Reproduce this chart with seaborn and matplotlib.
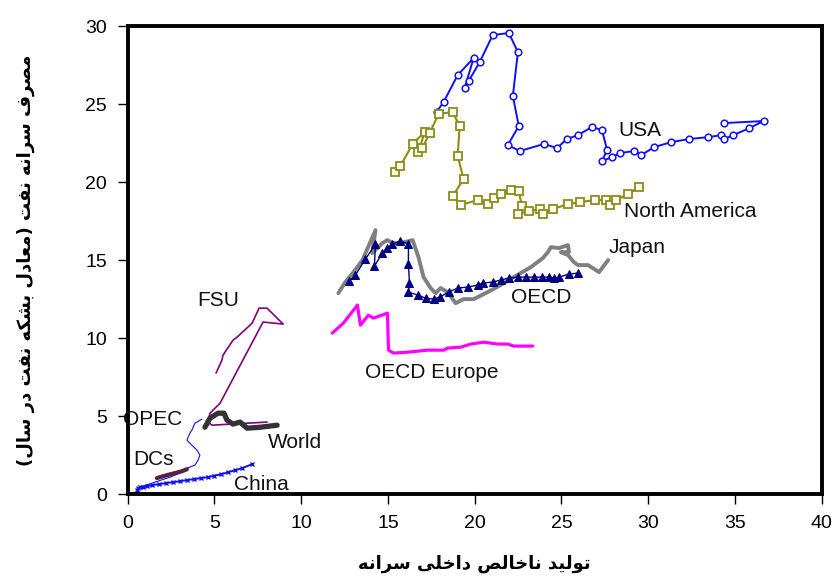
import matplotlib
matplotlib.use("Agg")
import matplotlib.pyplot as plt
import seaborn as sns
import pandas as pd

# ---- per-capita GDP (x) vs per-capita oil consumption (y) ----
usa_x = [17.80, 18.21, 19.02, 19.94, 19.42, 19.65, 20.29, 21.04, 21.97, 22.49, 22.20, 22.54,
         21.91, 22.60, 23.99, 24.74, 25.32, 25.95, 26.76, 27.34, 27.63, 27.34, 27.92, 28.38,
         29.19, 29.60, 30.35, 31.33, 32.37, 33.47, 34.22, 34.39, 34.91, 35.84, 36.65, 34.39]
usa_y = [24.49, 25.13, 26.86, 27.95, 26.03, 26.47, 27.69, 29.42, 29.55, 28.33, 25.51, 23.59,
         22.37, 21.99, 22.44, 22.18, 22.76, 23.01, 23.53, 23.33, 22.05, 21.35, 21.60, 21.86,
         21.99, 21.73, 22.24, 22.56, 22.76, 22.88, 23.01, 22.76, 23.01, 23.46, 23.91, 23.78]

na_x = [15.43, 15.72, 16.42, 17.11, 16.76, 16.99, 17.40, 17.92, 18.73, 19.13, 19.02, 19.36,
        18.73, 19.19, 20.17, 20.75, 21.10, 21.50, 22.08, 22.54, 22.72, 22.49, 23.12, 23.76,
        23.93, 24.51, 25.38, 26.07, 26.94, 27.57, 27.80, 28.15, 28.84, 29.48]
na_y = [20.64, 21.03, 22.44, 23.21, 21.92, 22.18, 23.14, 24.36, 24.49, 23.59, 21.67, 20.19,
        19.10, 18.53, 18.85, 18.59, 18.97, 19.23, 19.49, 19.42, 18.46, 17.95, 18.14, 18.27,
        17.95, 18.27, 18.59, 18.72, 18.85, 18.85, 18.53, 18.85, 19.23, 19.68]

japan_x = [12.14, 12.54, 13.01, 13.53, 14.28, 14.10, 14.68, 14.97, 15.26, 15.72, 16.42, 16.76,
           17.05, 17.46, 17.75, 18.03, 18.44, 18.90, 19.36, 19.94, 20.75, 21.50, 22.25, 23.24,
           23.93, 24.22, 24.39, 24.86, 25.38, 25.43, 24.97, 25.38, 25.72, 25.95, 26.53, 27.17, 27.69]
japan_y = [12.88, 13.59, 14.23, 15.00, 16.92, 15.45, 16.09, 16.28, 16.09, 16.09, 16.28, 15.19,
           13.91, 13.21, 12.88, 13.21, 12.95, 12.24, 12.50, 12.50, 12.95, 13.40, 13.91, 14.55,
           15.13, 15.51, 15.83, 15.77, 15.96, 15.51, 15.51, 15.32, 14.87, 14.68, 14.68, 14.23, 15.00]

oecd_x = [12.77, 13.12, 13.70, 14.28, 14.22, 14.68, 14.97, 15.26, 15.72, 16.18, 16.18, 16.24,
          16.18, 16.71, 17.17, 17.63, 17.98, 18.50, 19.02, 19.60, 20.17, 20.46, 21.04, 21.50,
          21.97, 22.49, 22.95, 23.41, 23.87, 24.28, 24.57, 24.86, 25.43, 25.95]
oecd_y = [13.65, 14.04, 15.06, 16.03, 14.62, 15.45, 15.77, 16.03, 16.22, 16.03, 14.74, 13.53,
          12.95, 12.76, 12.56, 12.50, 12.63, 12.95, 13.21, 13.27, 13.40, 13.53, 13.59, 13.72,
          13.85, 13.91, 13.91, 13.91, 13.91, 13.91, 13.85, 13.91, 14.10, 14.17]

europe_x = [11.79, 12.43, 13.24, 13.41, 13.87, 14.16, 14.97, 15.03, 15.32, 16.13, 17.28, 18.21,
            18.44, 19.19, 19.77, 20.52, 21.33, 21.91, 22.25, 23.35]
europe_y = [10.32, 10.96, 12.12, 10.83, 11.47, 11.28, 11.60, 9.23, 9.04, 9.10, 9.23, 9.23,
            9.36, 9.42, 9.62, 9.74, 9.62, 9.62, 9.49, 9.49]

fsu_x = [5.09, 5.43, 5.49, 6.07, 6.30, 7.17, 7.57, 8.03, 8.61, 8.96, 7.80, 5.32, 4.74, 4.62,
         4.86, 5.90, 6.88, 8.03]
fsu_y = [7.76, 8.59, 8.91, 9.87, 10.06, 10.96, 11.92, 11.92, 11.28, 10.90, 11.03, 5.83, 5.19,
         4.62, 4.42, 4.49, 4.55, 4.62]

world_x = [4.45, 4.74, 5.20, 5.55, 5.72, 6.07, 6.47, 6.88, 7.63, 8.61]
world_y = [4.29, 4.87, 5.19, 5.19, 4.74, 4.49, 4.62, 4.23, 4.29, 4.42]

opec_x = [0.69, 1.56, 2.43, 3.01, 3.41, 3.87, 4.05, 4.16, 3.99, 3.58, 3.41, 3.58, 3.70, 3.87, 4.28]
opec_y = [0.45, 0.77, 1.09, 1.35, 1.67, 1.86, 2.18, 2.50, 2.82, 3.27, 3.46, 3.91, 4.10, 4.55, 4.81]

dcs_x = [1.68, 1.85, 2.25, 2.72, 3.12, 3.41]
dcs_y = [1.03, 1.09, 1.22, 1.35, 1.47, 1.60]

china_x = [0.55, 0.55, 0.60, 0.70, 0.90, 1.10, 1.40, 1.80, 2.20, 2.60, 3.00, 3.40, 3.80, 4.20,
           4.60, 5.00, 5.40, 5.80, 6.20, 6.60, 7.17]
china_y = [0.10, 0.30, 0.38, 0.45, 0.45, 0.51, 0.58, 0.64, 0.71, 0.77, 0.83, 0.90, 0.96, 1.03,
           1.09, 1.19, 1.28, 1.41, 1.54, 1.67, 1.92]

x_ticks = [0, 5, 10, 15, 20, 25, 30, 35, 40]
y_ticks = [0, 5, 10, 15, 20, 25, 30]

x_label = "تولید ناخالص داخلی سرانه"
y_label = "مصرف سرانه نفت (معادل بشکه نفت در سال)"

# ---- minimal Persian shaping (presentation forms, visual order) ----
FORMS = {  # isolated, final, initial, medial
    "ا": ("\uFE8D", "\uFE8E", None, None),
    "ب": ("\uFE8F", "\uFE90", "\uFE91", "\uFE92"),
    "ت": ("\uFE95", "\uFE96", "\uFE97", "\uFE98"),
    "خ": ("\uFEA5", "\uFEA6", "\uFEA7", "\uFEA8"),
    "د": ("\uFEA9", "\uFEAA", None, None),
    "ر": ("\uFEAD", "\uFEAE", None, None),
    "س": ("\uFEB1", "\uFEB2", "\uFEB3", "\uFEB4"),
    "ش": ("\uFEB5", "\uFEB6", "\uFEB7", "\uFEB8"),
    "ص": ("\uFEB9", "\uFEBA", "\uFEBB", "\uFEBC"),
    "ع": ("\uFEC9", "\uFECA", "\uFECB", "\uFECC"),
    "ف": ("\uFED1", "\uFED2", "\uFED3", "\uFED4"),
    "ل": ("\uFEDD", "\uFEDE", "\uFEDF", "\uFEE0"),
    "م": ("\uFEE1", "\uFEE2", "\uFEE3", "\uFEE4"),
    "ن": ("\uFEE5", "\uFEE6", "\uFEE7", "\uFEE8"),
    "ه": ("\uFEE9", "\uFEEA", "\uFEEB", "\uFEEC"),
    "و": ("\uFEED", "\uFEEE", None, None),
    "ک": ("\uFB8E", "\uFB8F", "\uFB90", "\uFB91"),
    "ی": ("\uFBFC", "\uFBFD", "\uFBFE", "\uFBFF"),
}


def joins_next(ch):
    return ch in FORMS and FORMS[ch][2] is not None


def shape_fa(text):
    out = []
    for i, ch in enumerate(text):
        if ch not in FORMS:
            out.append(ch)
            continue
        prev_ch = text[i - 1] if i > 0 else ""
        next_ch = text[i + 1] if i + 1 < len(text) else ""
        link_prev = joins_next(prev_ch)
        link_next = joins_next(ch) and next_ch in FORMS
        iso, fin, ini, med = FORMS[ch]
        if link_prev and link_next:
            out.append(med)
        elif link_prev:
            out.append(fin)
        elif link_next:
            out.append(ini)
        else:
            out.append(iso)
    mirror = {"(": ")", ")": "("}
    return "".join(mirror.get(c, c) for c in reversed(out))


# ---- figure ----
sns.set_theme(style="white")
plt.rcParams["font.family"] = ["Liberation Sans", "DejaVu Sans"]

fig = plt.figure(figsize=(8.35, 5.78), dpi=100)
ax = fig.add_axes([0.153, 0.145, 0.831, 0.81])

BLUE = "#1010F0"
series = [
    (usa_x, usa_y, dict(color=BLUE, lw=1.4, marker="o", ms=4.8, mfc="white", mec=BLUE, mew=1.1)),
    (na_x, na_y, dict(color="#8C8C14", lw=1.5, marker="s", ms=5.6, mfc="white", mec="#8C8C14", mew=1.3)),
    (japan_x, japan_y, dict(color="#808080", lw=2.8)),
    (oecd_x, oecd_y, dict(color="#000080", lw=1.0, marker="^", ms=5.2, mfc="#000080", mec="#000080")),
    (europe_x, europe_y, dict(color="#FF00FF", lw=2.3)),
    (fsu_x, fsu_y, dict(color="#800080", lw=1.2)),
    (opec_x, opec_y, dict(color=BLUE, lw=0.8)),
    (dcs_x, dcs_y, dict(color="#5A2040", lw=3.0)),
    (world_x, world_y, dict(color="#333333", lw=3.8)),
    (china_x, china_y, dict(color=BLUE, lw=1.4, marker="x", ms=3.5, mec=BLUE, mew=1.0)),
]
for xs, ys, style in series:
    df = pd.DataFrame({"x": xs, "y": ys})
    sns.lineplot(data=df, x="x", y="y", sort=False, estimator=None, ax=ax, **style)

ax.set_xlim(0, 40)
ax.set_ylim(0, 30)
ax.set_xticks(x_ticks)
ax.set_yticks(y_ticks)
ax.set_xticklabels([str(t) for t in x_ticks], fontsize=14)
ax.set_yticklabels([str(t) for t in y_ticks], fontsize=14)
ax.tick_params(axis="both", direction="out", length=7, width=1.0, color="black",
               labelcolor="black", bottom=True, left=True)
ax.tick_params(axis="y", pad=8)
ax.tick_params(axis="x", pad=8)

for side in ["left", "right", "top", "bottom"]:
    ax.spines[side].set_visible(True)
    ax.spines[side].set_color("black")
    ax.spines[side].set_linewidth(2.8)

# series names
label_kw = dict(fontsize=15, color="#111111", va="center", ha="left")
ax.text(28.3, 23.3, "USA", **label_kw)
ax.text(28.6, 18.1, "North America", **label_kw)
ax.text(27.7, 15.8, "Japan", **label_kw)
ax.text(22.1, 12.6, "OECD", **label_kw)
ax.text(13.7, 7.8, "OECD Europe", **label_kw)
ax.text(4.0, 12.4, "FSU", **label_kw)
ax.text(-0.3, 4.8, "OPEC", clip_on=False, **label_kw)
ax.text(8.1, 3.3, "World", **label_kw)
ax.text(0.3, 2.2, "DCs", **label_kw)
ax.text(6.1, 0.6, "China", **label_kw)

ax.set_xlabel(shape_fa(x_label), fontsize=13, fontweight="bold", color="black",
              family=["DejaVu Sans"], labelpad=16)
ax.set_ylabel(shape_fa(y_label), fontsize=13, fontweight="bold", color="black",
              family=["DejaVu Sans"], labelpad=36)

fig.savefig("out.png", dpi=100, facecolor="white")
